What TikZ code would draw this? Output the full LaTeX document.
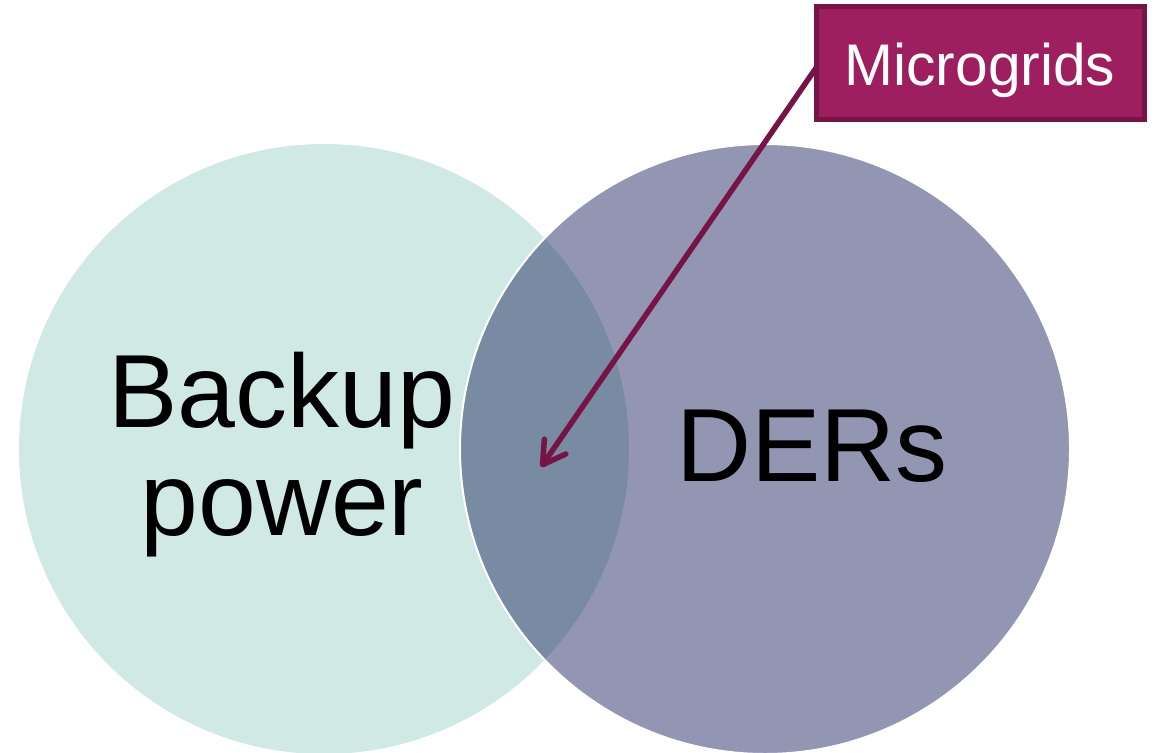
\documentclass[tikz,border=0pt]{standalone}
\usepackage{fontspec}
\setmainfont{Liberation Sans}
\usetikzlibrary{arrows.meta}
\definecolor{leftfill}{RGB}{208,233,228}
\definecolor{rightbase}{RGB}{20,27,88}
\definecolor{boxfill}{RGB}{158,31,96}
\definecolor{boxline}{RGB}{118,20,72}
\tikzset{
  bigtext/.style={font=\fontsize{104}{108}\selectfont, text=black, inner sep=0pt, align=center},
  labelbox/.style={draw=boxline, line width=5pt, fill=boxfill, text=white,
    font=\fontsize{58.7}{60}\selectfont, minimum width=328pt, minimum height=112pt, inner sep=0pt},
  pointer/.style={draw=boxline, line width=5.5pt, line cap=round,
    -{Straight Barb[length=22pt,width=26pt,line cap=round,line join=round]}}
}
\begin{document}
\begin{tikzpicture}[x=1pt,y=-1pt]
\useasboundingbox (0,0) rectangle (1155,752);
\fill[leftfill] (324,449) circle[radius=305];
\draw[fill=rightbase, fill opacity=0.46, draw=white, line width=2pt] (765,449) circle[radius=305];
\node[bigtext, anchor=base] (backup) at (282,535) {Backup\\power};
\node[font=\fontsize{104}{108}\selectfont, inner sep=0pt, anchor=base] (ders) at (812,481) {DERs};
\coordinate (tip) at (541,467);
\draw[pointer] (816,68) -- (tip);
\node[labelbox] (mg) at (980,63) {};
\node[text=white, font=\fontsize{58.7}{60}\selectfont, inner sep=0pt, anchor=base] (mgtext) at (980,85) {Microgrids};
\end{tikzpicture}
\end{document}
